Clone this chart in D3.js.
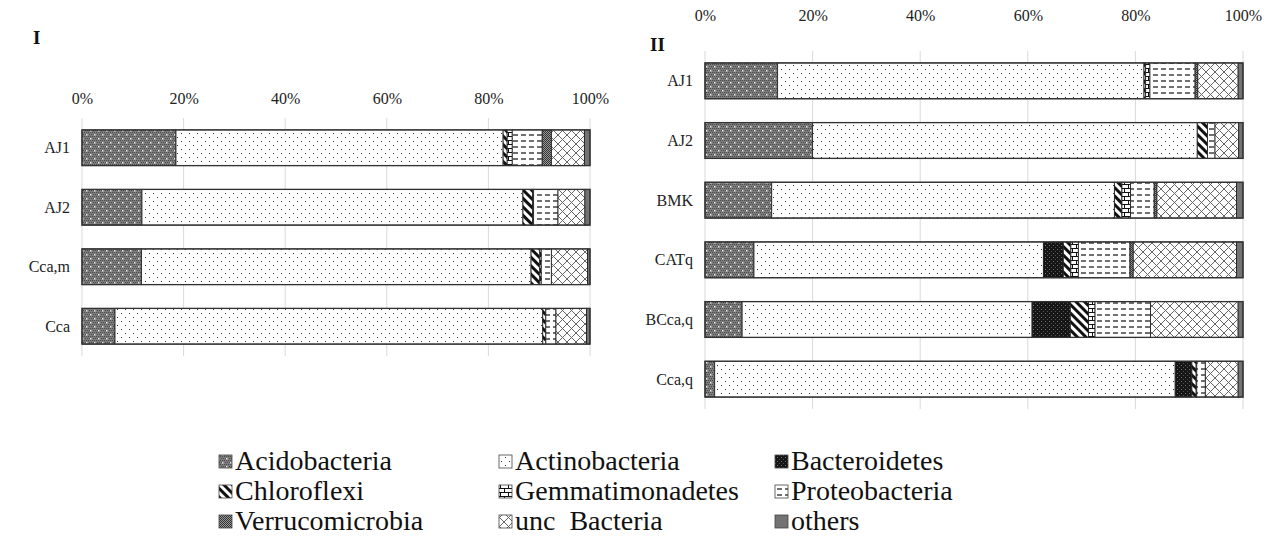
<!DOCTYPE html>
<html>
<head>
<meta charset="utf-8">
<script src="https://cdn.jsdelivr.net/npm/d3@7"></script>
<style>
  body { margin: 0; background: #fff; }
  svg { display: block; }
  svg text { font-family: "Liberation Serif", "Times New Roman", "DejaVu Serif", serif; }
</style>
</head>
<body>
<svg id="chart" width="1270" height="554"></svg>
<script>
// phyla (stack order) and percentages
const phyla = ["Acidobacteria", "Actinobacteria", "Bacteroidetes", "Chloroflexi",
  "Gemmatimonadetes", "Proteobacteria", "Verrucomicrobia", "unc  Bacteria", "others"];

const ticks = [0, 0.2, 0.4, 0.6, 0.8, 1];

const samplesI = ["AJ1", "AJ2", "Cca,m", "Cca"];
const valuesI = [
  [18.5, 64.4, 0, 0.8, 1.0, 5.9, 1.8, 6.5, 1.1],
  [11.8, 75.0, 0, 1.9, 0.2, 4.8, 0, 5.3, 1.0],
  [11.7, 76.7, 0, 1.7, 0.3, 2.0, 0, 7.1, 0.5],
  [6.5, 84.2, 0, 0.6, 0, 2.0, 0, 6.0, 0.7]
];

const samplesII = ["AJ1", "AJ2", "BMK", "CATq", "BCca,q", "Cca,q"];
const valuesII = [
  [13.5, 68.1, 0, 0.3, 0.8, 8.4, 0.5, 7.5, 0.9],
  [20.0, 71.5, 0, 1.9, 0, 1.4, 0, 4.4, 0.8],
  [12.4, 63.7, 0, 1.4, 1.6, 4.4, 0.5, 14.8, 1.2],
  [9.1, 53.8, 3.7, 1.4, 1.4, 9.6, 0.6, 19.2, 1.2],
  [6.9, 53.9, 7.1, 3.4, 1.2, 10.3, 0, 16.3, 0.9],
  [1.8, 85.6, 3.1, 0.8, 0.1, 1.6, 0, 6.1, 0.9]
];

const serif = "'Liberation Serif', 'Times New Roman', 'DejaVu Serif', serif";
const svg = d3.select("#chart");
const defs = svg.append("defs");

// ---- fill patterns (Excel style) ----
function pat(id, w, h) {
  return defs.append("pattern").attr("id", id)
    .attr("patternUnits", "userSpaceOnUse")
    .attr("width", w).attr("height", h);
}
let p;
// Acidobacteria: gray texture with light specks
p = pat("p0", 8, 8);
p.append("rect").attr("width", 8).attr("height", 8).attr("fill", "#7d7d7d");
[[0,0],[2,0],[4,0],[6,0],[1,2],[3,2],[5,2],[7,2],[0,4],[2,4],[4,4],[6,4],[1,6],[3,6],[5,6],[7,6]].forEach(d =>
  p.append("rect").attr("x", d[0]).attr("y", d[1]).attr("width", 1).attr("height", 1).attr("fill", "#4a4a4a"));
[[2,2],[6,6]].forEach(d =>
  p.append("rect").attr("x", d[0]).attr("y", d[1]).attr("width", 1.5).attr("height", 1.5).attr("fill", "#f0f0f0"));
// Actinobacteria: sparse dots
p = pat("p1", 8, 8);
p.append("rect").attr("width", 8).attr("height", 8).attr("fill", "#fff");
p.append("rect").attr("x", 1).attr("y", 1).attr("width", 1).attr("height", 1).attr("fill", "#333");
p.append("rect").attr("x", 5).attr("y", 5).attr("width", 1).attr("height", 1).attr("fill", "#333");
// Bacteroidetes: black with fine specks
p = pat("p2", 4, 4);
p.append("rect").attr("width", 4).attr("height", 4).attr("fill", "#151515");
p.append("rect").attr("x", 1).attr("y", 1).attr("width", 1).attr("height", 1).attr("fill", "#777");
p.append("rect").attr("x", 3).attr("y", 3).attr("width", 1).attr("height", 1).attr("fill", "#555");
// Chloroflexi: wide downward diagonal stripes
p = pat("p3", 6, 6).attr("patternTransform", "rotate(-45)");
p.append("rect").attr("width", 6).attr("height", 6).attr("fill", "#fff");
p.append("rect").attr("width", 3).attr("height", 6).attr("fill", "#111");
// Gemmatimonadetes: bricks
p = pat("p4", 8, 8);
p.append("rect").attr("width", 8).attr("height", 8).attr("fill", "#fff");
p.append("path").attr("d", "M0,0.5H8M0,4.5H8M0.5,0V4.5M4.5,4.5V8")
  .attr("stroke", "#111").attr("stroke-width", 1).attr("fill", "none");
// Proteobacteria: dashed horizontal
p = pat("p5", 8, 6);
p.append("rect").attr("width", 8).attr("height", 6).attr("fill", "#fff");
p.append("path").attr("d", "M1,3H6").attr("stroke", "#222").attr("stroke-width", 1.3);
// Verrucomicrobia: dark checker
p = pat("p6", 2, 2);
p.append("rect").attr("width", 2).attr("height", 2).attr("fill", "#999");
p.append("rect").attr("width", 1).attr("height", 1).attr("fill", "#333");
p.append("rect").attr("x", 1).attr("y", 1).attr("width", 1).attr("height", 1).attr("fill", "#333");
// unc Bacteria: diagonal cross hatch
p = pat("p7", 9, 9);
p.append("rect").attr("width", 9).attr("height", 9).attr("fill", "#fff");
p.append("path").attr("d", "M0,0L9,9M9,0L0,9").attr("stroke", "#666").attr("stroke-width", 1);
// others: solid gray
p = pat("p8", 4, 4);
p.append("rect").attr("width", 4).attr("height", 4).attr("fill", "#737373");

const fills = phyla.map((d, i) => "url(#p" + i + ")");

// ---- one stacked bar panel ----
function panel(samples, values, xRange, yRange, tickY, label, labelPos) {
  const x = d3.scaleLinear().domain([0, 1]).range(xRange);
  const y = d3.scaleBand().domain(samples).range(yRange).paddingInner(0.4).paddingOuter(0.2);
  const g = svg.append("g");

  g.selectAll(".grid").data(ticks).enter().append("line")
    .attr("x1", d => x(d)).attr("x2", d => x(d))
    .attr("y1", yRange[0]).attr("y2", yRange[1])
    .attr("stroke", "#d9d9d9").attr("stroke-width", 1);

  const axis = g.append("g").attr("transform", "translate(0," + tickY + ")")
    .call(d3.axisTop(x).tickValues(ticks).tickFormat(d3.format(".0%")).tickSize(0).tickPadding(0));
  axis.attr("font-family", serif).attr("font-size", 16);
  axis.select(".domain").remove();
  axis.selectAll("text").attr("fill", "#222").style("font-family", serif);

  samples.forEach((s, i) => {
    const v = values[i];
    const stack = d3.cumsum(v);
    const rows = v.map((val, j) => ({ k: j, x0: (stack[j] - val) / 100, x1: stack[j] / 100 }))
      .filter(d => d.x1 > d.x0);
    g.selectAll(".seg" + i).data(rows).enter().append("rect")
      .attr("x", d => x(d.x0)).attr("width", d => x(d.x1) - x(d.x0))
      .attr("y", y(s)).attr("height", y.bandwidth())
      .attr("fill", d => fills[d.k])
      .attr("stroke", "#262626").attr("stroke-width", 0.9);
    g.append("rect")
      .attr("x", x(0)).attr("width", x(d3.sum(v) / 100) - x(0))
      .attr("y", y(s)).attr("height", y.bandwidth())
      .attr("fill", "none").attr("stroke", "#333").attr("stroke-width", 1.3);
    g.append("text")
      .attr("x", xRange[0] - 12).attr("y", y(s) + y.bandwidth() / 2)
      .attr("dy", "0.35em").attr("text-anchor", "end")
      .style("font-family", serif)
      .attr("font-size", 16).attr("fill", "#222").text(s);
  });

  g.append("text").attr("x", labelPos[0]).attr("y", labelPos[1])
    .style("font-family", serif)
    .attr("font-size", 19).attr("font-weight", "bold").attr("fill", "#111").text(label);
}

panel(samplesI, valuesI, [82, 590], [118, 356], 104, "I", [33, 44]);
panel(samplesII, valuesII, [705, 1243], [51, 409], 21, "II", [650, 51]);

// ---- legend ----
const legCols = [219, 499, 775];
const legRows = [470, 500, 530];
const leg = svg.append("g");
phyla.forEach((name, i) => {
  const cx = legCols[i % 3], cy = legRows[Math.floor(i / 3)];
  leg.append("rect").attr("x", cx).attr("y", cy - 15).attr("width", 13).attr("height", 13)
    .attr("fill", fills[i]).attr("stroke", "#444").attr("stroke-width", 0.8);
  leg.append("text").attr("x", cx + 16).attr("y", cy)
    .style("font-family", serif)
    .attr("font-size", 28).attr("fill", "#111")
    .style("white-space", "pre").text(name);
});
</script>
</body>
</html>
